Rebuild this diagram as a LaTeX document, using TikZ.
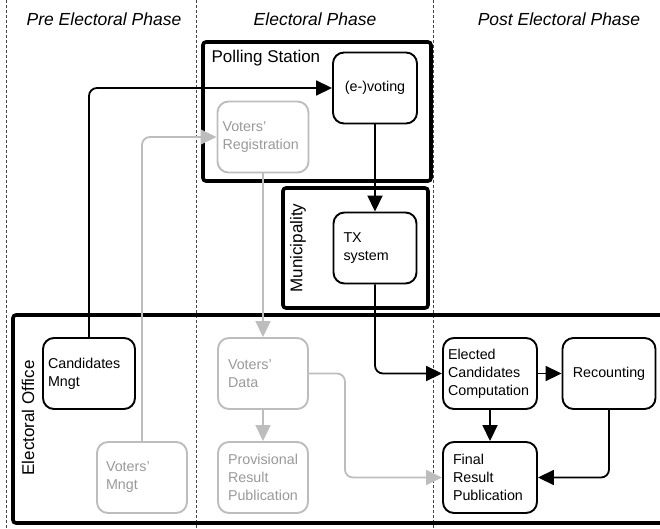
\documentclass[tikz,border=0pt]{standalone}
\usepackage{fontspec}
\setmainfont{Liberation Sans}
\usetikzlibrary{arrows.meta}
\definecolor{lg}{HTML}{BDBDBD}
\definecolor{lgt}{HTML}{9A9A9A}
\definecolor{dl}{HTML}{444444}
\tikzset{
  tip/.tip={Triangle[length=16pt,width=15pt]}
}
\begin{document}
\begin{tikzpicture}[x=1pt,y=-1pt,
  phase/.style={font=\fontsize{17.5}{20}\selectfont\itshape},
  cont/.style={draw, line width=3.6pt, rounded corners=3pt},
  contlabel/.style={font=\fontsize{17}{20}\selectfont},
  proc/.style={draw, line width=1.9pt, rounded corners=11pt, fill=white,
    font=\fontsize{14.3}{18}\selectfont, align=left, minimum height=71pt, inner ysep=2pt},
  gproc/.style={proc, draw=lg, text=lgt},
  arr/.style={line width=1.8pt, rounded corners=8pt, -tip},
  garr/.style={arr, draw=lg, color=lg},
  sep/.style={draw=dl, line width=0.9pt, dash pattern=on 3pt off 2pt}
]
\useasboundingbox (0,0) rectangle (660,529);
% phase separators
\draw[sep] (6,0) -- (6,529);
\draw[sep] (196,0) -- (196,529);
\draw[sep] (433,0) -- (433,529);
% headers
\node[phase] (h1) at (104,19) {Pre Electoral Phase};
\node[phase] (h2) at (315,19) {Electoral Phase};
\node[phase] (h3) at (559,19) {Post Electoral Phase};
% containers
\draw[cont] (203,42) rectangle (431,181);
\node[contlabel, anchor=west] (ps) at (208,58) {Polling Station};
\draw[cont] (283,188) rectangle (428,308);
\node[contlabel, rotate=90] (mun) at (298,248) {Municipality};
\draw[cont] (13,315) rectangle (680,523);
\node[contlabel, rotate=90] (eo) at (28,418) {Electoral Office};
% process nodes
\node[proc, text width=74pt, inner xsep=5pt, align=center] (voting) at (375,88) {(e-)voting};
\node[gproc, text width=81pt, inner xsep=5pt] (reg) at (263,137) {Voters'\\Registration};
\node[proc, text width=63pt, inner xsep=10pt] (tx) at (375,248) {TX\\system};
\node[proc, text width=82pt, inner xsep=5pt] (cand) at (89,373.5) {Candidates\\Mngt};
\node[gproc, text width=72pt, inner xsep=9pt] (vmngt) at (142,477.5) {Voters'\\Mngt};
\node[gproc, text width=70pt, inner xsep=10pt] (vdata) at (263,373.5) {Voters'\\Data};
\node[gproc, text width=70pt, inner xsep=10pt] (prov) at (263,477.5) {Provisional\\Result\\Publication};
\node[proc, text width=84pt, inner xsep=5pt] (elected) at (490,373.5) {Elected\\Candidates\\Computation};
\node[proc, text width=83pt, inner xsep=5pt, align=center] (recount) at (609,373.5) {Recounting};
\node[proc, text width=74pt, inner xsep=10pt] (final) at (490,477.5) {Final\\Result\\Publication};
% connectors
\draw[arr] (cand.north) |- (voting.west);
\draw[garr] (vmngt.north) |- (reg.west);
\draw[arr] (voting.south) -- (tx.north);
\draw[garr] (reg.south) -- (vdata.north);
\draw[garr] (vdata.south) -- (prov.north);
\draw[garr] (vdata.east) -- ++(36,0) |- (final.west);
\draw[arr] (tx.south) |- (elected.west);
\draw[arr] (elected.east) -- (recount.west);
\draw[arr] (elected.south) -- (final.north);
\draw[arr] (recount.south) |- (final.east);
\end{tikzpicture}
\end{document}
